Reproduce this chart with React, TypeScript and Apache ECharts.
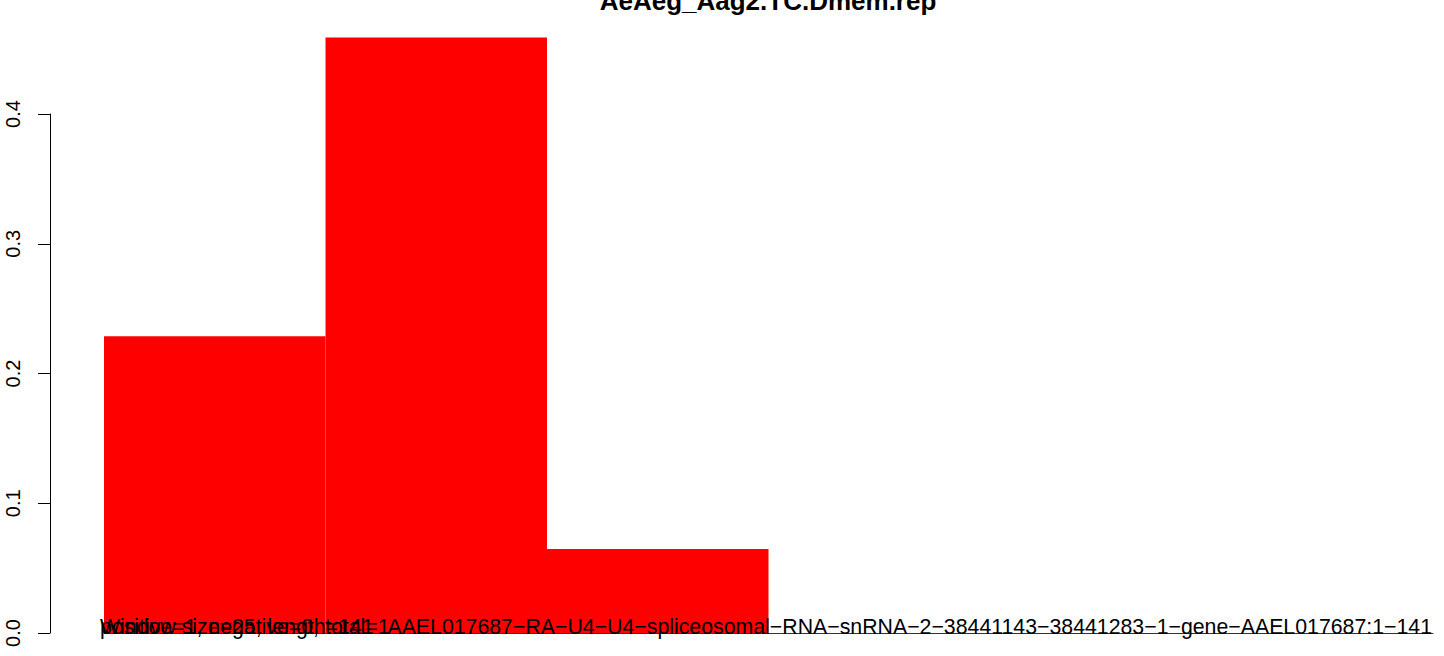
import React, { useEffect, useRef } from "react";
import * as echarts from "echarts";

const chartTitle = "AeAeg_Aag2.TC.Dmem.rep";
const windows = ["1", "2", "3", "4", "5", "6"];
const fractions = [0.2287, 0.4589, 0.0647, 0, 0, 0];
const yTicks = [0, 0.1, 0.2, 0.3, 0.4];
const infoWindow = "Window size=25, length=141";
const infoCounts = "positive=1, negative=0, total=1";
const geneLabel =
  "AAEL017687\u2212RA\u2212U4\u2212U4\u2212spliceosomal\u2212RNA\u2212snRNA\u22122\u221238441143\u221238441283\u22121\u2212gene\u2212AAEL017687:1\u2212141";

const FONT = "'Liberation Sans', Arial, Helvetica, sans-serif";

export default function App() {
  const ref = useRef<HTMLDivElement>(null);
  useEffect(() => {
    document.body.style.margin = "0";
    if (!ref.current) return;
    const chart = echarts.init(ref.current, null, { renderer: "svg" });
    chart.setOption({
      animation: false,
      backgroundColor: "#ffffff",
      grid: { left: 104, right: 11, top: 114, bottom: 23, containLabel: false },
      xAxis: {
        type: "category",
        data: windows,
        boundaryGap: true,
        axisLine: { show: true, lineStyle: { color: "#333333", width: 1 } },
        axisTick: { show: false },
        axisLabel: { show: false },
        splitLine: { show: false },
      },
      yAxis: {
        type: "value",
        min: yTicks[0],
        max: yTicks[yTicks.length - 1],
        interval: 0.1,
        offset: 54,
        axisLine: { show: true, lineStyle: { color: "#000000", width: 1 } },
        axisTick: { show: true, length: 12, lineStyle: { color: "#000000", width: 1 } },
        axisLabel: {
          show: true,
          rotate: 90,
          margin: 27,
          fontFamily: FONT,
          fontSize: 20,
          color: "#000000",
          formatter: (v: number) => v.toFixed(1),
        },
        splitLine: { show: false },
      },
      series: [
        {
          type: "bar",
          data: fractions,
          clip: false,
          barCategoryGap: "0%",
          itemStyle: { color: "#ff0000" },
          z: 2,
        },
      ],
      graphic: [
        {
          type: "text",
          x: 768,
          y: 1,
          style: {
            text: chartTitle,
            fontFamily: FONT,
            fontSize: 26,
            fontWeight: "bold",
            fill: "#000000",
            align: "center",
            verticalAlign: "middle",
          },
          z: 10,
        },
        {
          type: "text",
          x: 100,
          y: 627,
          style: {
            text: infoWindow,
            fontFamily: FONT,
            fontSize: 21.3,
            fill: "#000000",
            align: "left",
            verticalAlign: "middle",
          },
          z: 10,
        },
        {
          type: "text",
          x: 100,
          y: 627,
          style: {
            text: infoCounts,
            fontFamily: FONT,
            fontSize: 21.3,
            fill: "#000000",
            align: "left",
            verticalAlign: "middle",
          },
          z: 10,
        },
        {
          type: "text",
          x: 1432,
          y: 627,
          style: {
            text: geneLabel,
            fontFamily: FONT,
            fontSize: 21.3,
            fill: "#000000",
            align: "right",
            verticalAlign: "middle",
          },
          z: 10,
        },
      ],
    });
    return () => chart.dispose();
  }, []);
  return <div ref={ref} style={{ width: 1444, height: 656 }} />;
}
